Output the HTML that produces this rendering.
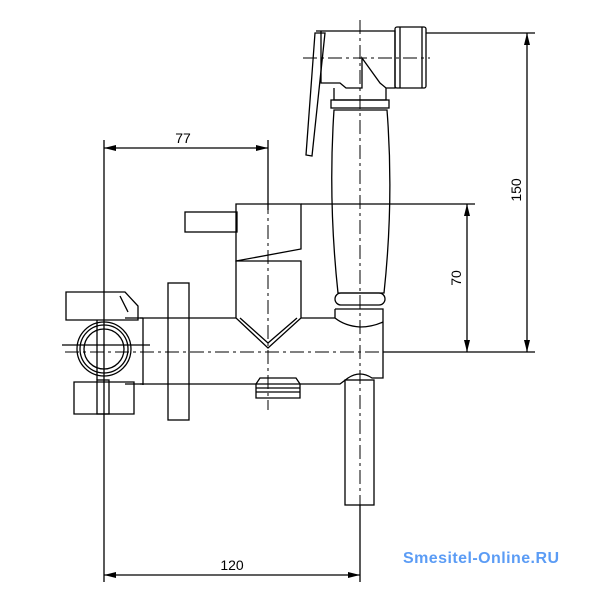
<!DOCTYPE html>
<html><head><style>
html,body{margin:0;padding:0;background:#fff;width:600px;height:600px;overflow:hidden}
svg{display:block}
text{font-family:"Liberation Sans",sans-serif;font-size:14px;fill:#000}
</style></head><body>
<svg width="600" height="600" viewBox="0 0 600 600" xmlns="http://www.w3.org/2000/svg">
<defs>
<marker id="a" markerWidth="12" markerHeight="6" refX="12" refY="3" orient="auto" markerUnits="userSpaceOnUse"><path d="M0,0 L12,3 L0,6 Z" fill="#000"/></marker>
<marker id="b" markerWidth="12" markerHeight="6" refX="0" refY="3" orient="auto" markerUnits="userSpaceOnUse"><path d="M12,0 L0,3 L12,6 Z" fill="#000"/></marker>
</defs>
<g stroke="#000" fill="none" stroke-width="1.3">
<line x1="104" y1="148" x2="268" y2="148" marker-start="url(#b)" marker-end="url(#a)"/>
<line x1="104" y1="575" x2="360" y2="575" marker-start="url(#b)" marker-end="url(#a)"/>
<line x1="467" y1="204" x2="467" y2="352" marker-start="url(#b)" marker-end="url(#a)"/>
<line x1="527" y1="33" x2="527" y2="352" marker-start="url(#b)" marker-end="url(#a)"/>
<line x1="104" y1="140" x2="104" y2="582"/>
<line x1="268" y1="140" x2="268" y2="210"/>
<line x1="360" y1="505" x2="360" y2="582"/>
<line x1="301" y1="204" x2="475" y2="204"/>
<line x1="426" y1="33" x2="535" y2="33"/>
<line x1="383" y1="352" x2="535" y2="352"/>
<g stroke-dasharray="14,4,3,4" stroke-width="1">
<line x1="65" y1="352" x2="395" y2="352"/>
<line x1="268" y1="200" x2="268" y2="410"/>
<line x1="360" y1="20" x2="360" y2="520"/>
<line x1="303" y1="58" x2="430" y2="58"/>
</g>
<rect x="185" y="212" width="52" height="20"/>
<path d="M236,204 H301 V249 L236,261 Z"/>
<path d="M236,261 H301 V318 L268,348 L236,318 Z"/>
<path d="M240,318 L268,343 L297,318"/>
<line x1="140" y1="318" x2="236" y2="318"/>
<line x1="301" y1="318" x2="335" y2="318"/>
<line x1="140" y1="384" x2="335" y2="384"/>
<rect x="168" y="283" width="21" height="137"/>
<path d="M260,378 H296 L300,384 V398 H256 V384 Z"/>
<line x1="256" y1="388" x2="300" y2="388"/><line x1="256" y1="392" x2="300" y2="392"/>
<path d="M335,309 H383 V378 H372 Q360,370 348,378 L340,384 H335"/>
<path d="M335,309 V318 Q345,326 360,327 Q372,327 383,322"/>
<rect x="345" y="380" width="29" height="125"/>
<path d="M334,110 Q328,200 338,293 H384 Q394,200 387,110 Z"/>
<rect x="335" y="293" width="50" height="12" rx="6"/>
<rect x="331" y="100" width="58" height="8"/>
<path d="M334,88 V100 H386 V88"/>
<path d="M316,31 H395 V88 H386 L380,83 L362,58 V88 H346 L340,83 H321 V31"/>
<rect x="395" y="27" width="31" height="61" rx="2"/>
<line x1="400" y1="27" x2="400" y2="88"/><line x1="422" y1="27" x2="422" y2="88"/>
<path d="M315,33 L306,155 L312,156 L325,33 Z"/>
<circle cx="104" cy="349" r="27"/>
<circle cx="104" cy="349" r="24"/>
<circle cx="104" cy="349" r="20"/>
<path d="M66,292 H125 L138,306 V320 H66 Z"/>
<path d="M120,296 L128,312"/>
<path d="M74,382 H134 V414 H74 Z"/>
<rect x="97" y="380" width="12" height="34"/>
<line x1="143" y1="318" x2="143" y2="385"/>
<line x1="125" y1="318" x2="143" y2="318"/><line x1="125" y1="384" x2="143" y2="384"/>
<line x1="62" y1="345" x2="150" y2="345"/>
<line x1="97" y1="320" x2="97" y2="380"/>
</g>
<text x="183" y="143" text-anchor="middle">77</text>
<text x="232" y="570" text-anchor="middle">120</text>
<text transform="translate(461,278) rotate(-90)" text-anchor="middle">70</text>
<text transform="translate(521,190) rotate(-90)" text-anchor="middle">150</text>
<text x="481" y="563" text-anchor="middle" textLength="156" style="font-weight:bold;font-size:16px;fill:#5b9cf5">Smesitel-Online.RU</text>
</svg>
</body></html>
